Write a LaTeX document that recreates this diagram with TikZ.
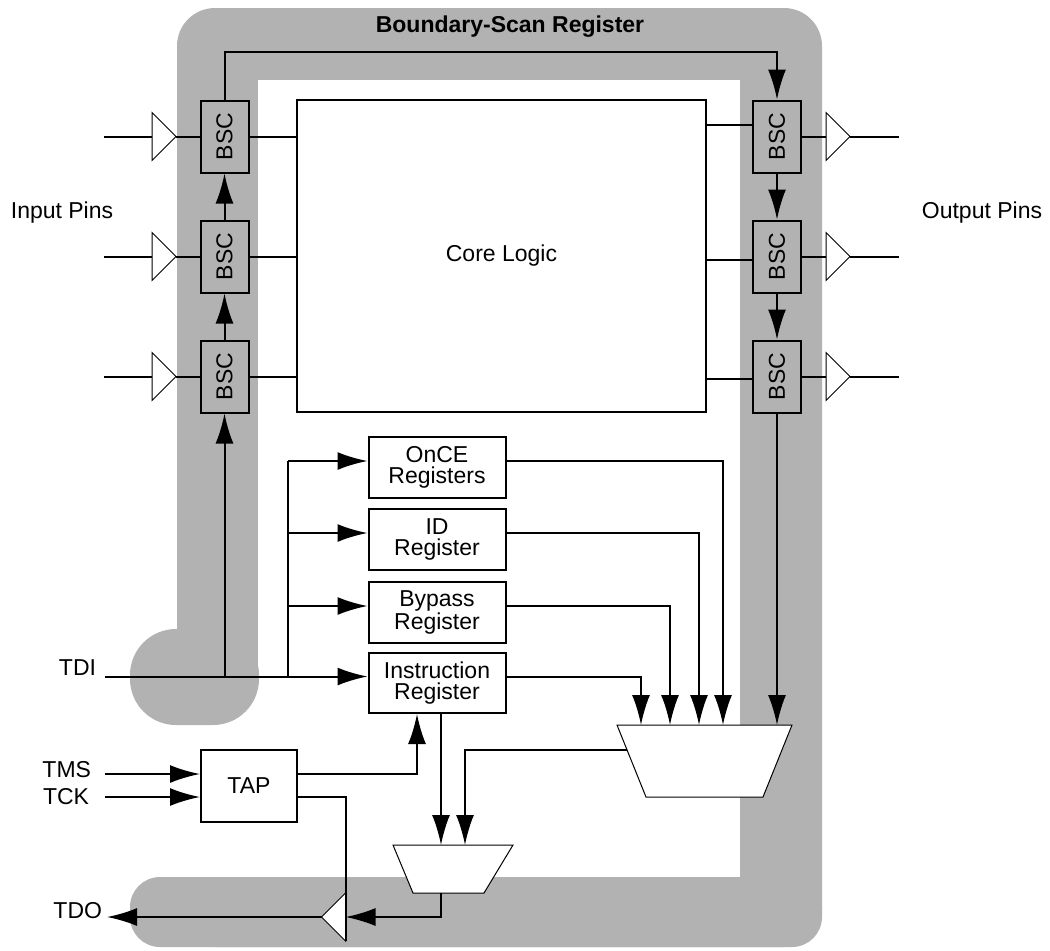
\documentclass[tikz,border=0pt]{standalone}
\usepackage{fontspec}
\setmainfont{Liberation Sans}
\usetikzlibrary{arrows.meta,calc}

\definecolor{bandgray}{gray}{0.7}

\tikzset{
  txt/.style={font=\fontsize{11.5}{10.5}\selectfont},
  box/.style={draw, txt, line width=1pt, inner sep=0pt, align=center},
  bscbox/.style={box, fill=bandgray, minimum width=24pt, minimum height=36pt},
  regbox/.style={box, fill=white, minimum width=68.5pt, minimum height=30.5pt},
  pinlabel/.style={txt, inner sep=0pt, anchor=east},
  arr/.style={-{Latex[length=15pt,width=9pt]}},
  bufR/.pic={
    \draw[line width=0.5pt, fill=white] (-12,-24) -- (12,0) -- (-12,24) -- cycle;
    \coordinate (-in) at (-12,0);
    \coordinate (-out) at (12,0);
  },
  bufL/.pic={
    \draw[line width=0.5pt, fill=white] (12,-24) -- (-12,0) -- (12,24) -- cycle;
    \coordinate (-in) at (12,0);
    \coordinate (-out) at (-12,0);
    \coordinate (-bot) at (12,24);
  }
}

\begin{document}
\begin{tikzpicture}[x=0.5pt, y=-0.5pt, line width=1pt]
  \useasboundingbox (0,0) rectangle (1050,950);

  % boundary-scan band
  \fill[bandgray, rounded corners=19pt] (177,8) rectangle (822,947);
  \fill[white] (258,80) rectangle (740,877);
  \fill[white] (170,676) rectangle (258,877);
  \fill[bandgray, rounded corners=23pt] (130,629) rectangle (259,725);
  \fill[bandgray, rounded corners=15pt] (130,877) rectangle (822,947);
  \node[txt, font=\bfseries\fontsize{11.5}{13}\selectfont] (title) at (510,27) {Boundary-Scan Register};

  % cells and core
  \node[box, minimum width=204.5pt, minimum height=156pt] (core) at (501.5,256) {Core Logic};
  \foreach \i/\y in {1/136.5, 2/256.5, 3/376.5} {
    \node[bscbox] (lb\i) at (224.5,\y) {\rotatebox{90}{BSC}};
    \node[bscbox] (rb\i) at (777,\y) {\rotatebox{90}{BSC}};
  }
  \node[txt] (inpins) at (62,213) {Input Pins};
  \node[txt] (outpins) at (982,213) {Output Pins};

  % pins
  \foreach \i in {1,2,3} {
    \pic (ib\i) at ([xshift=-17.75pt]lb\i.west) {bufR};
    \pic (ob\i) at ([xshift=18pt]rb\i.east) {bufR};
    \draw (ib\i-in) -- ++(-48,0);
    \draw (ib\i-out) -- (lb\i.west);
    \draw (lb\i.east) -- (lb\i.east -| core.west);
    \draw (rb\i.east) -- (ob\i-in);
    \draw (ob\i-out) -- ++(49,0);
  }
  \foreach \i/\s in {1/5.75, 2/-1.75, 3/-1.25}
    \draw ([yshift=\s pt]rb\i.west -| core.east) -- ([yshift=\s pt]rb\i.west);

  % scan chain
  \draw[arr] (lb3.north) -- (lb2.south);
  \draw[arr] (lb2.north) -- (lb1.south);
  \draw[arr] (lb1.north) -- ++(0,-47.5) -| (rb1.north);
  \draw[arr] (rb1.south) -- (rb2.north);
  \draw[arr] (rb2.south) -- (rb3.north);

  % test registers
  \node[regbox] (once) at (437,467.5) {OnCE\\Registers};
  \node[regbox] (idr) at (437,539.5) {ID\\Register};
  \node[regbox] (byp) at (437,612.5) {Bypass\\Register};
  \node[regbox, minimum height=30pt] (ir) at (437,683) {Instruction\\Register};
  \node[box, minimum width=48pt, minimum height=36pt] (tap) at (249,786) {TAP};

  % muxes
  \draw[line width=0.5pt, fill=white] (617,725) -- (792,725) -- (763,797) -- (646,797) -- cycle;
  \draw[line width=0.5pt, fill=white] (393,845) -- (513,845) -- (484,893) -- (413,893) -- cycle;
  \coordinate (m1) at (641,725);
  \coordinate (m2) at (670,725);
  \coordinate (m3) at (699,725);
  \coordinate (m4) at (723,725);
  \coordinate (bigout) at (627,750);
  \coordinate (s1) at (441,845);
  \coordinate (s2) at (465,845);
  \coordinate (smallout) at (441,893);
  \pic (tb) at (333.5,917) {bufL};

  % pin labels
  \node[pinlabel] (tdi) at (97,668) {TDI};
  \node[pinlabel] (tms) at (92,770) {TMS};
  \node[pinlabel] (tck) at (90,797) {TCK};
  \node[pinlabel] (tdo) at (103,911) {TDO};

  % TDI fan out
  \coordinate (irin) at ([yshift=3.25pt]ir.west);
  \coordinate (bus) at (288,0);
  \draw[arr] ([xshift=4pt]tdi.east |- irin) -- (irin);
  \draw[arr] (lb3.south |- irin) -- (lb3.south);
  \draw (irin -| bus) -- ([yshift=3.25pt]once.west -| bus);
  \foreach \r in {once,idr,byp}
    \draw[arr] ([yshift=3.25pt]\r.west -| bus) -- ([yshift=3.25pt]\r.west);

  % into the muxes
  \draw[arr] ([yshift=3.25pt]ir.east) -| (m1);
  \draw[arr] ([yshift=3.25pt]byp.east) -| (m2);
  \draw[arr] ([yshift=3.25pt]idr.east) -| (m3);
  \draw[arr] ([yshift=3.25pt]once.east) -| (m4);
  \draw[arr] (rb3.south) -- (rb3.south |- m1);
  \draw[arr] (bigout) -| (s2);
  \draw[arr] (s1 |- ir.south) -- (s1);

  % TAP
  \draw[arr] ([xshift=6.5pt]tms.east |- tap.west) ++(0,-12) -- ([yshift=6pt]tap.west);
  \draw[arr] ([xshift=7.5pt]tck.east) -- (tck.east -| tap.west);
  \draw[arr] ([yshift=6pt]tap.east) -| ([xshift=-10pt]ir.south);
  \draw ([yshift=-5.5pt]tap.east) -| (tb-bot);

  % TDO
  \draw[arr] (smallout) |- (tb-in);
  \draw[arr] (tb-out) -- ([xshift=2pt]tb-out -| tdo.east);
\end{tikzpicture}
\end{document}
